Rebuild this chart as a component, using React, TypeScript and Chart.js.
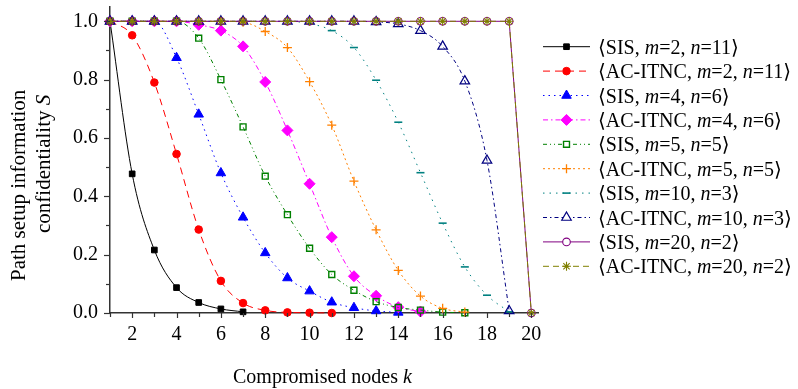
import React, { useEffect, useRef } from 'react';
import { Chart, registerables } from 'chart.js';

Chart.register(...registerables);

// ---- data ----
const ks = [1, 2, 3, 4, 5, 6, 7, 8, 9, 10, 11, 12, 13, 14, 15, 16, 17, 18, 19, 20];
const xTickValues = [2, 4, 6, 8, 10, 12, 14, 16, 18, 20];
const yTickValues = [0, 0.2, 0.4, 0.6, 0.8, 1.0];

const schemes = ['SIS', 'AC-ITNC', 'SIS', 'AC-ITNC', 'SIS', 'AC-ITNC', 'SIS', 'AC-ITNC', 'SIS', 'AC-ITNC'];
const mValues = [2, 2, 4, 4, 5, 5, 10, 10, 20, 20];
const nValues = [11, 11, 6, 6, 5, 5, 3, 3, 2, 2];

// null = not plotted in the reference
const sisM2N11 = [1.0, 0.477, 0.216, 0.087, 0.036, 0.014, 0.004, null, null, null, null, null, null, null, null, null, null, null, null, null];
const acM2N11 = [1.0, 0.952, 0.79, 0.545, 0.286, 0.11, 0.034, 0.009, 0.002, 0.001, 0, null, null, null, null, null, null, null, null, null];
const sisM4N6 = [1.0, 1.0, 1.0, 0.875, 0.681, 0.48, 0.328, 0.206, 0.12, 0.075, 0.037, 0.018, 0.007, 0.002, null, null, null, null, null, null];
const acM4N6 = [1.0, 1.0, 1.0, 1.0, 0.988, 0.968, 0.914, 0.792, 0.626, 0.443, 0.26, 0.126, 0.059, 0.02, 0.005, null, null, null, null, null];
const sisM5N5 = [1.0, 1.0, 1.0, 1.0, 0.942, 0.8, 0.638, 0.469, 0.337, 0.222, 0.132, 0.078, 0.039, 0.019, 0.01, 0.003, 0.001, null, null, null];
const acM5N5 = [1.0, 1.0, 1.0, 1.0, 1.0, 1.0, 0.997, 0.965, 0.91, 0.793, 0.644, 0.452, 0.285, 0.146, 0.058, 0.016, 0.003, null, null, null];
const sisM10N3 = [1.0, 1.0, 1.0, 1.0, 1.0, 1.0, 1.0, 1.0, 1.0, 0.992, 0.968, 0.91, 0.798, 0.654, 0.481, 0.308, 0.158, 0.061, 0.004, null];
const acM10N3 = [1.0, 1.0, 1.0, 1.0, 1.0, 1.0, 1.0, 1.0, 1.0, 1.0, 1.0, 1.0, 0.998, 0.991, 0.968, 0.914, 0.795, 0.523, 0.007, null];
const sisM20N2 = [1.0, 1.0, 1.0, 1.0, 1.0, 1.0, 1.0, 1.0, 1.0, 1.0, 1.0, 1.0, 1.0, 1.0, 1.0, 1.0, 1.0, 1.0, 1.0, 0];
const acM20N2 = [1.0, 1.0, 1.0, 1.0, 1.0, 1.0, 1.0, 1.0, 1.0, 1.0, 1.0, 1.0, 1.0, 1.0, 1.0, 1.0, 1.0, 1.0, 1.0, 0];

const seriesValues = [sisM2N11, acM2N11, sisM4N6, acM4N6, sisM5N5, acM5N5, sisM10N3, acM10N3, sisM20N2, acM20N2];

// ---- styles ----
const colors = ['#000000', '#ff0000', '#0000ff', '#ff00ff', '#008000', '#ff8000', '#008080', '#000080', '#800080', '#808000'];
const fills = ['#000000', '#ff0000', '#0000ff', '#ff00ff', 'rgba(0,0,0,0)', '#ff8000', '#008080', 'rgba(0,0,0,0)', 'rgba(0,0,0,0)', '#808000'];
const dashes: number[][] = [[], [7, 5], [1.5, 4], [5, 3, 1.5, 3], [4, 3, 1, 3, 1, 3], [2, 3], [1.5, 5], [4, 3, 1.5, 3], [], [6, 4]];
const pointStyles = ['rect', 'circle', 'triangle', 'rectRot', 'rect', 'cross', 'line', 'triangle', 'circle', 'star'];
const pointRadii = [4, 3.8, 5.5, 5.5, 4.2, 4.5, 4, 5.5, 3.8, 4.5];
const pointBorders = [1, 1, 1, 1, 1.4, 1.3, 1.6, 1.2, 1.1, 1.1];
const SERIF = '"Liberation Serif", "DejaVu Serif", serif';

function drawMarker(ctx: CanvasRenderingContext2D, style: string, x: number, y: number, r: number, fill: string, stroke: string, lw: number) {
  ctx.save();
  ctx.setLineDash([]);
  ctx.lineWidth = lw;
  ctx.strokeStyle = stroke;
  ctx.fillStyle = fill;
  ctx.beginPath();
  let fillable = true;
  switch (style) {
    case 'circle':
      ctx.arc(x, y, r, 0, Math.PI * 2);
      break;
    case 'rect': {
      const s = r * Math.SQRT1_2;
      ctx.rect(x - s, y - s, 2 * s, 2 * s);
      break;
    }
    case 'rectRot':
      ctx.moveTo(x, y - r);
      ctx.lineTo(x + r, y);
      ctx.lineTo(x, y + r);
      ctx.lineTo(x - r, y);
      ctx.closePath();
      break;
    case 'triangle':
      ctx.moveTo(x, y - r);
      ctx.lineTo(x + 0.866 * r, y + 0.5 * r);
      ctx.lineTo(x - 0.866 * r, y + 0.5 * r);
      ctx.closePath();
      break;
    case 'cross':
      fillable = false;
      ctx.moveTo(x, y - r);
      ctx.lineTo(x, y + r);
      ctx.moveTo(x - r, y);
      ctx.lineTo(x + r, y);
      break;
    case 'line':
      fillable = false;
      ctx.moveTo(x - r, y);
      ctx.lineTo(x + r, y);
      break;
    case 'star': {
      fillable = false;
      const d = r * Math.SQRT1_2;
      ctx.moveTo(x, y - r);
      ctx.lineTo(x, y + r);
      ctx.moveTo(x - r, y);
      ctx.lineTo(x + r, y);
      ctx.moveTo(x - d, y - d);
      ctx.lineTo(x + d, y + d);
      ctx.moveTo(x - d, y + d);
      ctx.lineTo(x + d, y - d);
      break;
    }
  }
  if (fillable) ctx.fill();
  ctx.stroke();
  ctx.restore();
}

const decorPlugin = {
  id: 'decor',
  afterDraw(chart: any) {
    const ctx: CanvasRenderingContext2D = chart.ctx;
    const xs = chart.scales.x;
    const ys = chart.scales.y;
    const area = chart.chartArea;
    ctx.save();
    // tick marks
    ctx.strokeStyle = '#333';
    ctx.lineWidth = 1.2;
    ctx.setLineDash([]);
    for (let i = 0; i <= 10; i++) {
      const v = i / 10;
      const py = Math.round(ys.getPixelForValue(v)) + 0.5;
      const len = i % 2 === 0 ? 6 : 4;
      ctx.beginPath();
      ctx.moveTo(area.left - len, py);
      ctx.lineTo(area.left, py);
      ctx.stroke();
    }
    for (const k of ks) {
      const px = Math.round(xs.getPixelForValue(k)) + 0.5;
      ctx.beginPath();
      ctx.moveTo(px, area.bottom);
      ctx.lineTo(px, area.bottom + (k % 2 === 0 ? 5 : 4));
      ctx.stroke();
    }

    // axis titles
    ctx.fillStyle = '#000';
    ctx.textBaseline = 'alphabetic';
    ctx.textAlign = 'left';
    ctx.font = `21px ${SERIF}`;
    ctx.save();
    ctx.translate(25, 281);
    ctx.rotate(-Math.PI / 2);
    ctx.fillText('Path setup information', 0, 0);
    ctx.restore();
    ctx.save();
    ctx.translate(50, 233);
    ctx.rotate(-Math.PI / 2);
    const part = 'confidentiality ';
    ctx.font = `21px ${SERIF}`;
    ctx.fillText(part, 0, 0);
    const w = ctx.measureText(part).width;
    ctx.font = `italic 21px ${SERIF}`;
    ctx.fillText('S', w, 0);
    ctx.restore();

    ctx.font = `20px ${SERIF}`;
    const xt = 'Compromised nodes ';
    ctx.fillText(xt, 233, 383);
    const xw = ctx.measureText(xt).width;
    ctx.font = `italic 20px ${SERIF}`;
    ctx.fillText('k', 233 + xw, 383);

    // legend
    for (let i = 0; i < seriesValues.length; i++) {
      const cy = 46.7 + i * 24.4;
      ctx.save();
      ctx.strokeStyle = colors[i];
      ctx.lineWidth = 1;
      ctx.setLineDash(dashes[i]);
      ctx.beginPath();
      ctx.moveTo(543, cy);
      ctx.lineTo(590, cy);
      ctx.stroke();
      ctx.restore();
      drawMarker(ctx, pointStyles[i], 566.5, cy, pointRadii[i], fills[i] === 'rgba(0,0,0,0)' ? '#fff' : fills[i], colors[i], pointBorders[i]);

      const segs: [string, boolean][] = [
        ['\u27E8' + schemes[i] + ', ', false],
        ['m', true],
        ['=' + mValues[i] + ', ', false],
        ['n', true],
        ['=' + nValues[i] + '\u27E9', false],
      ];
      let tx = 598;
      const by = cy + 7;
      ctx.fillStyle = '#000';
      for (const [t, it] of segs) {
        ctx.font = `${it ? 'italic ' : ''}20px ${SERIF}`;
        ctx.fillText(t, tx, by);
        tx += ctx.measureText(t).width;
      }
    }
    ctx.restore();
  },
};

export default function App() {
  const ref = useRef<HTMLCanvasElement | null>(null);
  useEffect(() => {
    document.body.style.margin = '0';
    const canvas = ref.current!;
    const datasets = seriesValues.map((vals, i) => ({
      label: `${schemes[i]} m=${mValues[i]} n=${nValues[i]}`,
      data: vals.map((v, j) => ({ x: ks[j], y: v })),
      borderColor: colors[i],
      backgroundColor: fills[i],
      borderWidth: 1,
      borderDash: dashes[i],
      pointStyle: pointStyles[i],
      pointRadius: pointRadii[i],
      pointBorderWidth: pointBorders[i],
      pointBackgroundColor: fills[i],
      pointBorderColor: colors[i],
      cubicInterpolationMode: i < 8 ? 'monotone' : 'default',
      tension: 0,
      order: 10 - i,
      clip: false as any,
      fill: false,
      spanGaps: false,
    }));
    const chart = new Chart(canvas, {
      type: 'line',
      data: { datasets } as any,
      options: {
        animation: false,
        responsive: false,
        devicePixelRatio: 1,
        layout: { padding: { top: 5, right: 260, left: 0, bottom: 0 } },
        plugins: { legend: { display: false }, tooltip: { enabled: false } },
        scales: {
          x: {
            type: 'linear',
            min: 1,
            max: 20.3,
            afterBuildTicks: (s: any) => {
              s.ticks = xTickValues.map((v) => ({ value: v }));
            },
            afterFit: (s: any) => {
              s.height = 76;
              s.paddingLeft = 0;
              s.paddingRight = 0;
            },
            grid: { display: false, drawTicks: false, tickLength: 0 },
            border: { display: true, color: '#333', width: 1.5 },
            ticks: {
              autoSkip: false,
              maxRotation: 0,
              padding: 10,
              color: '#000',
              font: { family: SERIF, size: 20 },
              callback: (v: any) => String(v),
            },
          },
          y: {
            type: 'linear',
            min: 0,
            max: 1.05,
            afterBuildTicks: (s: any) => {
              s.ticks = yTickValues.map((v) => ({ value: v }));
            },
            afterFit: (s: any) => {
              s.width = 110;
              s.paddingTop = 0;
              s.paddingBottom = 0;
            },
            grid: { display: false, drawTicks: false, tickLength: 0 },
            border: { display: true, color: '#333', width: 1.5 },
            ticks: {
              autoSkip: false,
              padding: 12,
              color: '#000',
              font: { family: SERIF, size: 20 },
              callback: (v: any) => Number(v).toFixed(1),
            },
          },
        },
      } as any,
      plugins: [decorPlugin],
    });
    return () => chart.destroy();
  }, []);
  return (
    <div style={{ position: 'fixed', left: 0, top: 0, width: 798, height: 389, background: '#fff' }}>
      <canvas ref={ref} width={798} height={389} style={{ display: 'block' }} />
    </div>
  );
}
